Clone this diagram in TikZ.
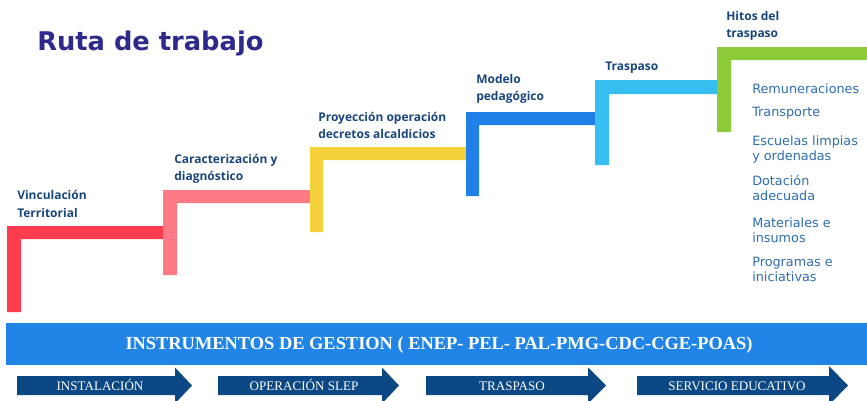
\documentclass[tikz,border=0pt]{standalone}
\usepackage{fontspec}
\setmainfont{Liberation Serif}
\newfontfamily\lblfont{Open Sans}
\newfontfamily\listfont{DejaVu Sans}
\newfontfamily\titfont{DejaVu Sans}
\definecolor{cRed}{RGB}{255,60,78}
\definecolor{cPink}{RGB}{255,122,134}
\definecolor{cYel}{RGB}{245,210,60}
\definecolor{cBlue}{RGB}{32,128,232}
\definecolor{cLBlue}{RGB}{55,190,240}
\definecolor{cGreen}{RGB}{141,203,58}
\definecolor{cBar}{RGB}{33,133,232}
\definecolor{cNavy}{RGB}{12,72,132}
\definecolor{cLbl}{RGB}{25,70,125}
\definecolor{cList}{RGB}{46,110,175}
\definecolor{cTitle}{RGB}{46,42,140}
\begin{document}
\begin{tikzpicture}[x=0.75pt,y=-0.75pt,
  lbl/.style={anchor=base west,inner sep=0pt,text=cLbl,font=\lblfont\bfseries\fontsize{9}{11}\selectfont},
  lst/.style={anchor=base west,inner sep=0pt,text=cList,font=\listfont\fontsize{9.6}{11}\selectfont},
  arw/.style={fill=cNavy},
  arwtxt/.style={inner sep=0pt,text=white,font=\fontsize{9.8}{11}\selectfont}]
\useasboundingbox (0,0) rectangle (867,400);
\fill[white] (0,0) rectangle (867,400);
% title
\node[anchor=base west,inner sep=0pt,text=cTitle,font=\titfont\bfseries\fontsize{19.3}{22}\selectfont] (title) at (37,50) {Ruta de trabajo};
% steps
\fill[cRed] (7,226)--(165,226)--(165,239)--(21,239)--(21,312)--(7,312)--cycle;
\fill[cPink] (163,190)--(312,190)--(312,203)--(177,203)--(177,275)--(163,275)--cycle;
\fill[cYel] (310,147)--(468,147)--(468,160)--(323,160)--(323,232)--(310,232)--cycle;
\fill[cBlue] (466,112)--(598,112)--(598,125)--(479,125)--(479,196)--(466,196)--cycle;
\fill[cLBlue] (595,80)--(719,80)--(719,94)--(609,94)--(609,165)--(595,165)--cycle;
\fill[cGreen] (717,47)--(867,47)--(867,60)--(731,60)--(731,132)--(717,132)--cycle;
% step labels
\node[lbl] (l1a) at (17,199) {Vinculación};
\node[lbl] (l1b) at (17,217) {Territorial};
\node[lbl] (l2a) at (174,163) {Caracterización y};
\node[lbl] (l2b) at (174,180) {diagnóstico};
\node[lbl] (l3a) at (318,121) {Proyección operación};
\node[lbl] (l3b) at (318,138.5) {decretos alcaldicios};
\node[lbl] (l4a) at (476,83.3) {Modelo};
\node[lbl] (l4b) at (476,100.7) {pedagógico};
\node[lbl] (l5a) at (605,70.7) {Traspaso};
\node[lbl] (l6a) at (726,20.7) {Hitos del};
\node[lbl] (l6b) at (726,37.7) {traspaso};
% list
\node[lst] (r1) at (752,93.3) {Remuneraciones};
\node[lst] (r2) at (752,116.7) {Transporte};
\node[lst] (r3a) at (752,145.7) {Escuelas limpias};
\node[lst] (r3b) at (752,160.7) {y ordenadas};
\node[lst] (r4a) at (752,185) {Dotación};
\node[lst] (r4b) at (752,200) {adecuada};
\node[lst] (r5a) at (752,227.3) {Materiales e};
\node[lst] (r5b) at (752,242.7) {insumos};
\node[lst] (r6a) at (752,266.7) {Programas e};
\node[lst] (r6b) at (752,281.7) {iniciativas};
% bar
\fill[cBar] (6,323) rectangle (867,365);
\node[anchor=base,inner sep=0pt,text=white,font=\bfseries\fontsize{13.8}{16}\selectfont] (bar) at (439,349) {INSTRUMENTOS DE GESTION ( ENEP- PEL- PAL-PMG-CDC-CGE-POAS)};
% arrows
\fill[arw] (17,376)--(175,376)--(175,367.5)--(192,385.5)--(175,403.5)--(175,395)--(17,395)--cycle;
\fill[arw] (218,376)--(382,376)--(382,367.5)--(399,385.5)--(382,403.5)--(382,395)--(218,395)--cycle;
\fill[arw] (426,376)--(588,376)--(588,367.5)--(606,385.5)--(588,403.5)--(588,395)--(426,395)--cycle;
\fill[arw] (637,376)--(829,376)--(829,366)--(848,385.5)--(829,405)--(829,395)--(637,395)--cycle;
\node[arwtxt,anchor=base] (a1) at (100,390) {INSTALACIÓN};
\node[arwtxt,anchor=base] (a2) at (304,390) {OPERACIÓN SLEP};
\node[arwtxt,anchor=base] (a3) at (512,390) {TRASPASO};
\node[arwtxt,anchor=base] (a4) at (737,390) {SERVICIO EDUCATIVO};
\end{tikzpicture}
\end{document}
